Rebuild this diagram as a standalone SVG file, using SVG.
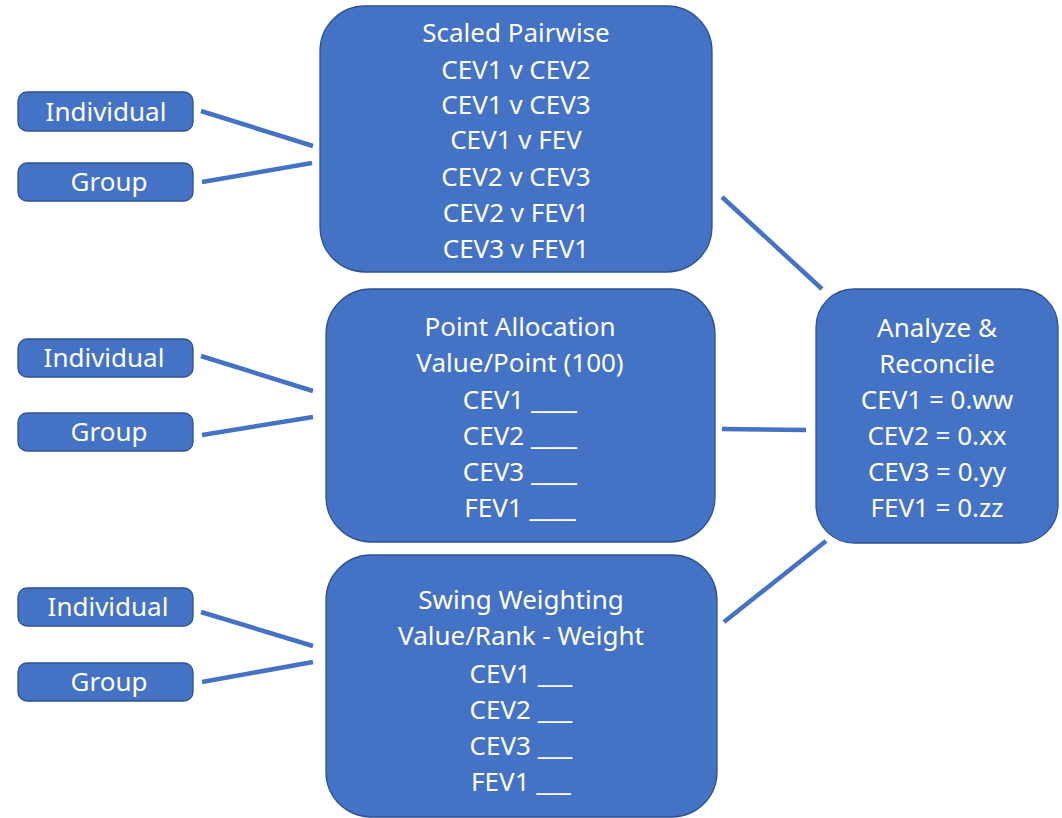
<svg xmlns="http://www.w3.org/2000/svg" width="1062" height="818" viewBox="0 0 1062 818">
<style>
.box{fill:#4472C4;stroke:#2F528F;stroke-width:1.3}
.t{font-family:"Noto Sans","Open Sans",sans-serif;font-size:26px;fill:#FFFFFF;text-anchor:middle}
.c{stroke:#4472C4;stroke-width:4.5;fill:none}
</style>
<rect width="1062" height="818" fill="#FFFFFF"/>
<g id="connectors">
<line class="c" x1="201" y1="111" x2="313" y2="146"/>
<line class="c" x1="202" y1="182" x2="312" y2="163"/>
<line class="c" x1="201" y1="356" x2="313" y2="391"/>
<line class="c" x1="202" y1="435" x2="313" y2="417"/>
<line class="c" x1="201" y1="612" x2="313" y2="646"/>
<line class="c" x1="202" y1="682" x2="313" y2="662"/>
<line class="c" x1="722" y1="197" x2="822" y2="289"/>
<line class="c" x1="722" y1="429" x2="806" y2="430"/>
<line class="c" x1="826" y1="541" x2="724" y2="622"/>
</g>
<g id="ind1"><rect class="box" x="18" y="92" width="175" height="39" rx="9"/><text class="t" x="106" y="121">Individual</text></g>
<g id="grp1"><rect class="box" x="18" y="163" width="175" height="38" rx="9"/><text class="t" x="109" y="191">Group</text></g>
<g id="ind2"><rect class="box" x="18" y="339" width="175" height="38" rx="9"/><text class="t" x="104" y="367">Individual</text></g>
<g id="grp2"><rect class="box" x="18" y="413" width="175" height="38" rx="9"/><text class="t" x="109" y="441">Group</text></g>
<g id="ind3"><rect class="box" x="18" y="588" width="175" height="38" rx="9"/><text class="t" x="108" y="616">Individual</text></g>
<g id="grp3"><rect class="box" x="18" y="663" width="175" height="38" rx="9"/><text class="t" x="109" y="691">Group</text></g>
<g id="scaled">
<rect class="box" x="320" y="6" width="392" height="266" rx="45"/>
<text class="t" x="516" y="42">Scaled Pairwise</text>
<text class="t" x="516" y="79">CEV1 v CEV2</text>
<text class="t" x="516" y="114">CEV1 v CEV3</text>
<text class="t" x="516" y="149">CEV1 v FEV</text>
<text class="t" x="516" y="186">CEV2 v CEV3</text>
<text class="t" x="516" y="222">CEV2 v FEV1</text>
<text class="t" x="516" y="258">CEV3 v FEV1</text>
</g>
<g id="point">
<rect class="box" x="326" y="289" width="389" height="253" rx="45"/>
<text class="t" x="520" y="336">Point Allocation</text>
<text class="t" x="520" y="372">Value/Point (100)</text>
<text class="t" x="520" y="409">CEV1 ____</text>
<text class="t" x="520" y="445">CEV2 ____</text>
<text class="t" x="520" y="481">CEV3 ____</text>
<text class="t" x="520" y="517">FEV1 ____</text>
</g>
<g id="swing">
<rect class="box" x="326" y="555" width="391" height="262" rx="45"/>
<text class="t" x="521" y="609">Swing Weighting</text>
<text class="t" x="521" y="645">Value/Rank - Weight</text>
<text class="t" x="521" y="683">CEV1 ___</text>
<text class="t" x="521" y="719">CEV2 ___</text>
<text class="t" x="521" y="755">CEV3 ___</text>
<text class="t" x="521" y="791">FEV1 ___</text>
</g>
<g id="analyze">
<rect class="box" x="816" y="289" width="242" height="254" rx="38"/>
<text class="t" x="937" y="337">Analyze &amp;</text>
<text class="t" x="937" y="373">Reconcile</text>
<text class="t" x="937" y="409">CEV1 = 0.ww</text>
<text class="t" x="937" y="445">CEV2 = 0.xx</text>
<text class="t" x="937" y="481">CEV3 = 0.yy</text>
<text class="t" x="937" y="517">FEV1 = 0.zz</text>
</g>
</svg>
